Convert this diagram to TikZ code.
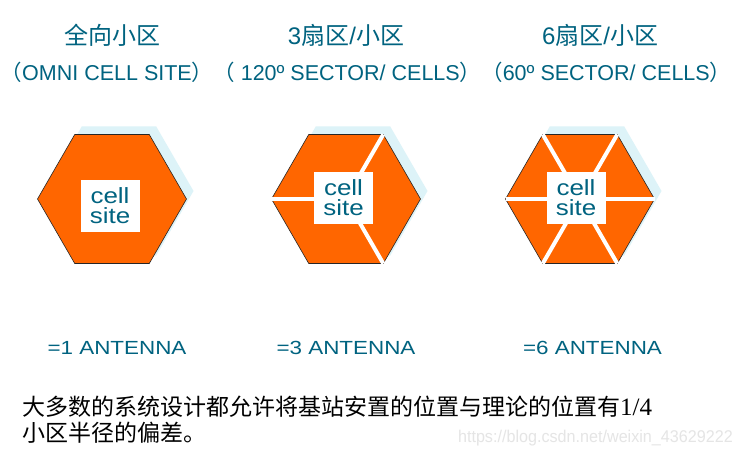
\documentclass[tikz,border=0pt]{standalone}
\usepackage{fontspec}
\setmainfont{Liberation Sans}
\newfontfamily\cjk{Noto Sans CJK SC}
\newfontfamily\widesans[FakeStretch=1.18]{Liberation Sans}
\newfontfamily\narrowsans[FakeStretch=0.95]{Liberation Sans}
\newfontfamily\serifnum{Liberation Serif}
\usetikzlibrary{shapes.geometric,shadows,positioning}
\definecolor{CTeal}{RGB}{0,99,128}
\definecolor{COrange}{RGB}{255,102,0}
\definecolor{CShadow}{RGB}{221,243,248}

\tikzset{
  hexcell/.style={
    regular polygon, regular polygon sides=6,
    minimum size=149pt, inner sep=0pt, outer sep=0pt,
    fill=COrange, draw=black!85, line width=0.6pt,
    general shadow={fill=CShadow, draw=none, shadow xshift=7pt, shadow yshift=8pt}
  },
  divider/.style={draw=white, line width=4pt},
  sitebox/.style={
    fill=white, text=CTeal, inner sep=0pt,
    minimum width=59pt, minimum height=52pt, align=center,
    font=\widesans\fontsize{22}{20}\selectfont
  },
  titletext/.style={text=CTeal, inner sep=0pt, font=\fontsize{24}{24}\selectfont},
  subtext/.style={text=CTeal, inner sep=0pt, font=\fontsize{21.5}{22}\selectfont},
  antennatext/.style={text=CTeal, inner sep=0pt, font=\widesans\fontsize{19}{19}\selectfont},
  notetext/.style={text=black, inner sep=0pt, anchor=west, font=\fontsize{23}{23}\selectfont},
  marktext/.style={text=black!10, inner sep=0pt, anchor=east, font=\narrowsans\fontsize{17}{17}\selectfont}
}

\begin{document}
\begin{tikzpicture}[x=1pt, y=-1pt]
  \useasboundingbox[fill=white] (0,0) rectangle (741,455);

  % titles
  \node[titletext] (omnititle) at (112,35) {\cjk 全向小区};
  \node[titletext] (sectorbtitle) at (346,35) {3{\cjk 扇区}/{\cjk 小区}};
  \node[titletext] (sectorctitle) at (600,35) {6{\cjk 扇区}/{\cjk 小区}};
  \node[subtext] (subline) at (366,72)
    {{\cjk （}OMNI CELL SITE{\cjk ）（} 120º SECTOR/ CELLS{\cjk ）（}60º SECTOR/ CELLS{\cjk ）}};

  % cells
  \node[hexcell] (omni) at (112,199) {};
  \node[hexcell] (sectorb) at (346,199) {};
  \node[hexcell] (sectorc) at (580,199) {};

  \foreach \a in {180,60,300}
    \draw[divider] (sectorb.center) -- (sectorb.\a);
  \foreach \a in {0,60,...,300}
    \draw[divider] (sectorc.center) -- (sectorc.\a);

  \node[sitebox] (omnisite) at (110,206) {cell\\site};
  \node[sitebox] (sectorbsite) at (343.5,197.5) {cell\\site};
  \node[sitebox] (sectorcsite) at (576,197.5) {cell\\site};

  % antennas
  \node[antennatext] (omniant) at (117,348) {=1 ANTENNA};
  \node[antennatext] (sectorbant) at (346,348) {=3 ANTENNA};
  \node[antennatext] (sectorcant) at (592.5,348) {=6 ANTENNA};

  % note
  \node[notetext] (notea) at (22,407)
    {{\cjk 大多数的系统设计都允许将基站安置的位置与理论的位置有}{\serifnum\fontsize{25}{25}\selectfont 1/4}};
  \node[notetext] (noteb) at (22,433) {\cjk 小区半径的偏差。};
  \node[marktext] (mark) at (733,438) {https://blog.csdn.net/weixin\_43629222};
\end{tikzpicture}
\end{document}
